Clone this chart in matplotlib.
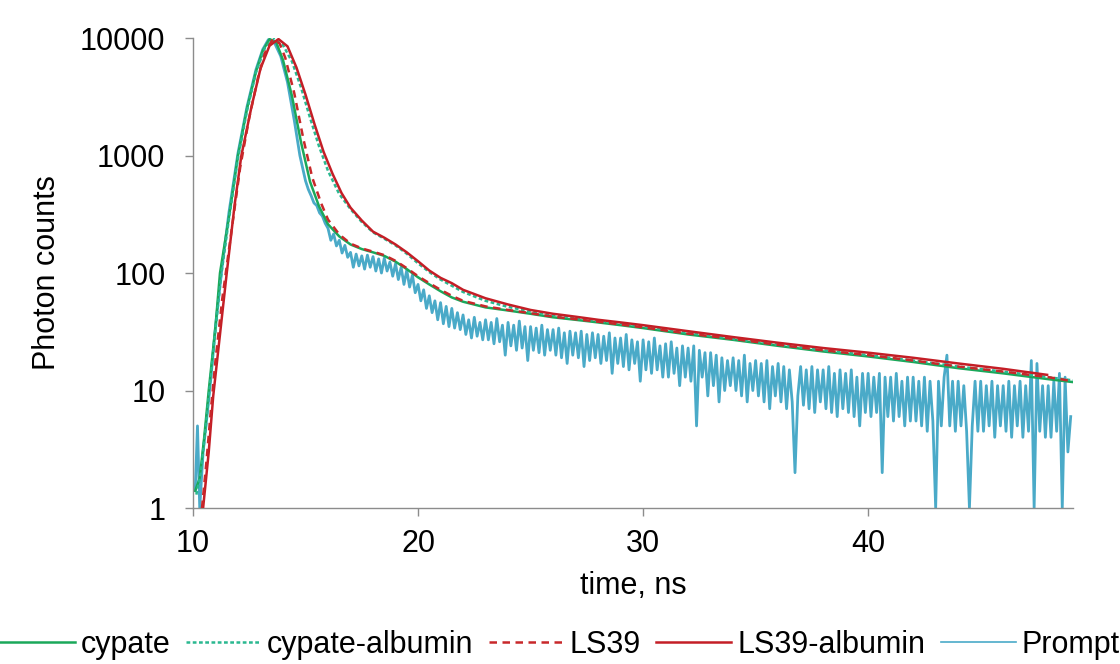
"""
plot.py
-------
Fluorescence decay curves (log scale) of cypate / LS39 with and without albumin,
plus the instrument prompt.
"""

import numpy as np
import matplotlib.pyplot as plt
from matplotlib.lines import Line2D

plt.rcParams["font.family"] = ["Liberation Sans", "DejaVu Sans"]

# ---- data ----
cypate_t = [10.1, 10.3, 10.5, 10.7, 11.0, 11.2, 11.6, 12.0, 12.4, 12.8, 13.1, 13.4,
            13.7, 14.0, 14.4, 14.8, 15.2, 15.6, 16.0, 16.5, 17.0, 17.5, 18.0, 18.5,
            19.0, 19.5, 20.0, 20.5, 21.0, 21.5, 22, 23, 24, 25, 26, 27, 28, 29, 30,
            32, 34, 36, 38, 40, 42, 44, 46, 48, 49.1]
cypate_y = [1.4, 1.8, 4, 10, 35, 100, 300, 1000, 2500, 5200, 7800, 9800,
            9200, 6500, 3200, 1300, 600, 370, 260, 205, 175, 160, 150, 140,
            125, 108, 92, 80, 70, 62, 57, 51, 48, 45, 42, 40, 38, 36, 34,
            30, 27, 24, 21.5, 19.5, 17.5, 15.5, 14, 12.5, 11.8]

cypate_alb_t = [10.15, 10.35, 10.55, 10.75, 11.0, 11.25, 11.6, 12.0, 12.4, 12.8, 13.2,
                13.6, 14.0, 14.4, 14.8, 15.2, 15.6, 16.0, 16.5, 17.0, 17.5, 18.0, 18.5,
                19.0, 19.5, 20.0, 20.5, 21.0, 21.5, 22, 23, 24, 25, 26, 27, 28, 29, 30,
                32, 34, 36, 38, 40, 42, 44, 46, 48, 49.1]
cypate_alb_y = [1.3, 2, 4.5, 11, 33, 95, 290, 950, 2400, 5100, 8300,
                9800, 8700, 6300, 3800, 2100, 1200, 740, 470, 350, 272, 222, 196,
                172, 146, 121, 102, 88, 78, 69, 58, 51.5, 47, 44, 41.5, 39, 37, 35,
                31, 27.5, 24.5, 22, 20, 18, 16, 14.5, 13, 12.2]

ls39_t = [10.4, 10.6, 10.8, 11.0, 11.3, 11.7, 12.1, 12.5, 12.9, 13.2, 13.55, 13.85,
          14.1, 14.5, 14.9, 15.3, 15.7, 16.0, 16.5, 17.0, 17.5, 18.0, 18.5, 19.0,
          19.5, 20.0, 20.5, 21.0, 21.5, 22, 23, 24, 25, 26, 27, 28, 29, 30, 32, 34,
          36, 38, 40, 42, 44, 46, 48, 49.1]
ls39_y = [1.0, 2.5, 7, 18, 60, 220, 800, 2100, 4700, 7500, 9800, 9000,
          6800, 3400, 1400, 650, 390, 285, 213, 178, 162, 152, 142, 127,
          110, 94, 82, 72, 64, 58, 52, 48.5, 45.5, 42.5, 40.5, 38.5, 36.5, 34.5, 30.5, 27.5,
          24.5, 22, 20, 18, 16, 14.5, 13, 12]

ls39_alb_t = [10.45, 10.7, 10.9, 11.2, 11.5, 11.85, 12.15, 12.6, 13.0, 13.4, 13.8, 14.2,
              14.6, 15.0, 15.4, 15.8, 16.2, 16.6, 17.0, 17.5, 18.0, 18.5, 19.0, 19.5,
              20.0, 20.5, 21.0, 21.5, 22, 23, 24, 25, 26, 27, 28, 29, 30, 32, 34, 36,
              38, 40, 42, 44, 46, 47.95]
ls39_alb_y = [1.0, 3, 9, 30, 100, 380, 1000, 2600, 5500, 8600, 9800, 8500,
              5600, 3300, 1850, 1080, 700, 480, 360, 280, 225, 200, 175, 150,
              126, 105, 91, 82, 72, 61, 54, 48.5, 45, 42.5, 40, 38, 36, 32, 28.5, 25.5,
              23, 21, 19, 17, 15.3, 13.6]

# prompt: rising edge, then noisy tail sampled every 0.125 ns from 15 ns
prompt_head_t = [10.0, 10.1, 10.2, 10.3, 10.45, 10.6, 10.8, 11.0, 11.3, 11.6, 12.0, 12.4,
                 12.8, 13.1, 13.35, 13.6, 13.9, 14.2, 14.5, 14.75]
prompt_head_y = [1.5, 1.4, 5, 1.0, 3, 5.5, 13, 35, 115, 330, 1050, 2600,
                 5400, 8000, 9700, 9300, 7000, 4200, 2000, 1000]
prompt_tail_y = [
    610, 515, 455, 395, 375, 325, 305, 265,      # 15
    240, 190, 215, 170, 190, 148, 172, 136,      # 16
    150, 112, 145, 115, 140, 108, 142, 112,      # 17
    138, 104, 132, 100, 134, 104, 124, 94,       # 18
    120, 88, 112, 80, 106, 76, 96, 68,           # 19
    80, 58, 72, 50, 64, 46, 58, 40,              # 20
    56, 37, 52, 35, 50, 34, 46, 33,              # 21
    44, 30, 40, 28, 42, 29, 38, 27,              # 22
    40, 27, 38, 25, 41, 26, 36, 20,              # 23
    38, 24, 36, 22, 39, 23, 35, 18,              # 24
    35, 22, 34, 21, 36, 20, 33, 22,              # 25
    33, 20, 34, 19, 31, 17, 32, 20,              # 26
    31, 19, 32, 16, 30, 18, 31, 19,              # 27
    30, 17, 29, 18, 31, 14, 28, 17,              # 28
    28, 16, 30, 15, 27, 17, 26, 12,              # 29
    27, 15, 26, 14, 28, 15, 24, 13,              # 30
    25, 13, 26, 14, 23, 11, 24, 13,              # 31
    23, 12, 24, 5, 22, 13, 21, 9,                # 32
    21, 11, 20, 8, 19, 10, 18, 11,               # 33
    19, 10, 18, 9, 20, 8, 17, 10,                # 34
    18, 9, 17, 8, 18, 7, 16, 9,                  # 35
    17, 8, 16, 7, 15, 8, 2, 9,                   # 36
    16, 7.5, 15, 7, 16, 6.5, 15, 8,              # 37
    15, 7, 16, 6.5, 14, 6, 15, 7,                # 38
    14, 6.5, 15, 6, 13, 5, 14, 6.5,              # 39
    14, 6, 13, 6.5, 14, 2, 13, 6,                # 40
    13, 5.5, 14, 6, 12, 5, 13, 5.5,              # 41
    13, 5.5, 12, 5, 13, 4.5, 12, 5.5,            # 42
    1, 12, 5, 13, 20, 5, 12, 4.5,                # 43
    12, 5, 11, 4.5, 1, 5, 12, 4.5,               # 44
    12, 4.5, 11, 5, 12, 4, 11, 5,                # 45
    11, 4.5, 12, 4, 11, 5, 12, 4,                # 46
    11, 4.5, 18, 1, 17, 4.5, 11, 4,              # 47
    11, 4, 12, 4.5, 14, 1, 13, 3,                # 48
    6,                                           # 49
]
prompt_tail_t = 15.0 + 0.125 * np.arange(len(prompt_tail_y))

x_ticks = [10, 20, 30, 40]
y_ticks = [1, 10, 100, 1000, 10000]

PROMPT_COLOR = "#4aaac8"

# ---- figure ----
fig = plt.figure(figsize=(11.2, 6.64), dpi=100)
ax = fig.add_axes([0.1723, 0.2349, 0.7857, 0.7078])

prompt_t = np.concatenate([prompt_head_t, prompt_tail_t])
prompt_y = np.concatenate([prompt_head_y, prompt_tail_y])

ax.plot(prompt_t, prompt_y, color=PROMPT_COLOR, lw=2.0, zorder=1)
h_cyp, = ax.plot(cypate_t, cypate_y, color="#1aa85a", lw=1.8, zorder=2, label="cypate")
h_cypa, = ax.plot(cypate_alb_t, cypate_alb_y, color="#2ab890", lw=1.8, ls=(0, (1.5, 1.0)),
                  zorder=3, label="cypate-albumin")
h_lsa, = ax.plot(ls39_alb_t, ls39_alb_y, color="#c41e26", lw=1.8, zorder=4, label="LS39-albumin")
h_ls, = ax.plot(ls39_t, ls39_y, color="#c8282a", lw=1.8, ls=(0, (3, 2.2)),
                zorder=5, label="LS39")
# thinner proxy so the legend swatch looks like the original
h_prompt = Line2D([], [], color=PROMPT_COLOR, lw=1.2, label="Prompt")

ax.set_yscale("log")
ax.set_xlim(10, 49.1)
ax.set_ylim(1, 10000)
ax.set_xticks(x_ticks)
ax.set_xticklabels([str(v) for v in x_ticks])
ax.set_yticks(y_ticks)
ax.set_yticklabels([str(v) for v in y_ticks])
ax.yaxis.set_minor_locator(plt.NullLocator())

for side in ("top", "right"):
    ax.spines[side].set_visible(False)
for side in ("left", "bottom"):
    ax.spines[side].set_color("#8c8c8c")
    ax.spines[side].set_linewidth(1.0)
ax.tick_params(axis="both", colors="#8c8c8c", labelcolor="black", labelsize=22,
               length=5.8, width=1.0, direction="out")
ax.tick_params(axis="x", pad=9.5)
ax.tick_params(axis="y", pad=14)

ax.set_xlabel("time, ns", fontsize=22)
ax.set_ylabel("Photon counts", fontsize=22)
ax.xaxis.set_label_coords(0.5, -0.134)
ax.yaxis.set_label_coords(-0.149, 0.5)

fig.legend(handles=[h_cyp, h_cypa, h_ls, h_lsa, h_prompt],
           loc="center", bbox_to_anchor=(0.5, 1 - 645 / 664), ncol=5, frameon=False,
           fontsize=22, handlelength=2.45, handletextpad=0.2, columnspacing=0.5,
           borderaxespad=0.0, borderpad=0.0)

fig.savefig("out.png", dpi=100)
